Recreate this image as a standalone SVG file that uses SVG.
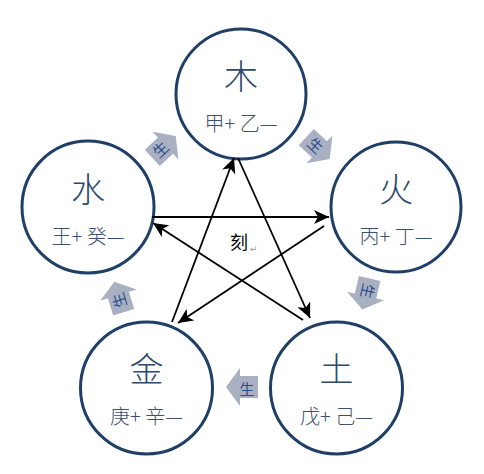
<svg xmlns="http://www.w3.org/2000/svg" width="484" height="474" viewBox="0 0 484 474">
<style>
.node circle{fill:#fff;stroke:#1f3f66;stroke-width:3}
.main{font-family:"Noto Sans CJK SC","Noto Sans CJK JP",sans-serif;font-size:34px;fill:#2e4a6b;text-anchor:middle;font-weight:300}
.sub{font-family:"Noto Sans CJK SC","Noto Sans CJK JP",sans-serif;font-size:20px;fill:#3a5070;text-anchor:middle;font-weight:300}
.ke{stroke:#000;stroke-width:1.8;fill:none;marker-end:url(#ah)}
.arr{fill:#a9b0c2}
.gt{font-family:"Noto Sans CJK SC","Noto Sans CJK JP",sans-serif;font-size:15px;fill:#2d4f8a;text-anchor:middle}
</style>
<defs>
<marker id="ah" markerUnits="userSpaceOnUse" markerWidth="16" markerHeight="14" refX="15" refY="7" orient="auto">
<path d="M0,0 L15,7 L0,14 L4,7 z" fill="#000"/>
</marker>
<path id="blk" d="M16,0 L2,-19 L2,-11 L-16,-11 L-16,11 L2,11 L2,19 z"/>
</defs>
<rect width="484" height="474" fill="#fff"/>
<g id="nodes">
<g id="mu" class="node"><circle cx="241" cy="94" r="65"/><text class="main" x="241" y="89">木</text><text class="sub" x="241" y="131">甲+ 乙—</text></g>
<g id="huo" class="node"><circle cx="396" cy="207" r="65"/><text class="main" x="396" y="202">火</text><text class="sub" x="396" y="244">丙+ 丁—</text></g>
<g id="shui" class="node"><circle cx="88" cy="207" r="66"/><text class="main" x="88" y="202">水</text><text class="sub" x="88" y="244">王+ 癸—</text></g>
<g id="jin" class="node"><circle cx="146.5" cy="388" r="66"/><text class="main" x="146.5" y="382">金</text><text class="sub" x="146.5" y="424">庚+ 辛—</text></g>
<g id="tu" class="node"><circle cx="336.5" cy="388" r="66"/><text class="main" x="336.5" y="382">土</text><text class="sub" x="336.5" y="424">戊+ 己—</text></g>
</g>
<g id="connectors">
<line class="ke" x1="152" y1="217" x2="329" y2="217"/>
<line class="ke" x1="324" y1="226" x2="178" y2="323"/>
<line class="ke" x1="172" y1="322" x2="234" y2="158"/>
<line class="ke" x1="238" y1="158" x2="310" y2="318"/>
<line class="ke" x1="303" y1="320" x2="153" y2="223"/>
</g>
<g id="ke-label">
<text x="239" y="249" font-family="Noto Sans CJK SC, sans-serif" font-size="18" text-anchor="middle" fill="#000">刻</text>
<text x="250" y="252" font-family="DejaVu Sans, sans-serif" font-size="9" fill="#999">↵</text>
</g>
<g id="sheng">
<use href="#blk" class="arr" transform="translate(164,147) rotate(-43)"/>
<text class="gt" transform="translate(161,150) rotate(-43)" y="5">生</text>
<use href="#blk" class="arr" transform="translate(318,148) rotate(43)"/>
<text class="gt" transform="translate(315,146) rotate(43)" y="5">生</text>
<use href="#blk" class="arr" transform="translate(366,294) rotate(103)"/>
<text class="gt" transform="translate(367,291) rotate(103)" y="5">生</text>
<use href="#blk" class="arr" transform="translate(242,387) rotate(180)"/>
<text class="gt" x="247" y="395">生</text>
<use href="#blk" class="arr" transform="translate(119,297) rotate(-107)"/>
<text class="gt" transform="translate(120,300) rotate(-107)" y="5">生</text>
</g>
</svg>
